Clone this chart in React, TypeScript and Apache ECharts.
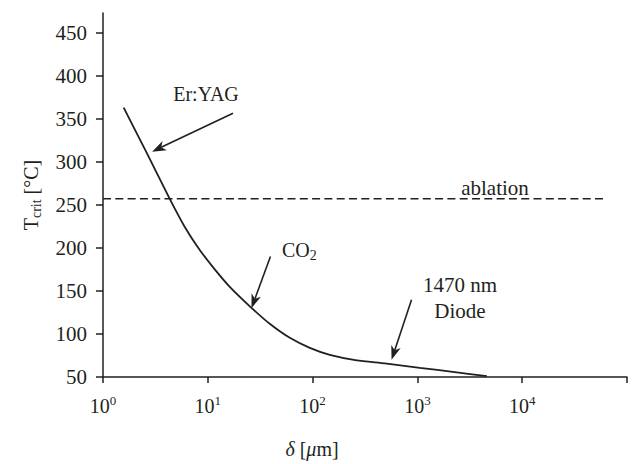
import React, { useEffect, useRef } from "react";
import * as echarts from "echarts";

// Curve: critical temperature vs optical penetration depth
const deltaUm = [1.576, 2.614, 4.334, 6.03, 8.38, 11.65, 16.2, 26.1, 39.0, 60.6, 94.0, 145.9, 264, 489, 1054, 2275, 4600];
const tCrit = [363.0, 310.4, 257.0, 224.4, 197.7, 175.1, 154.8, 130.4, 111.8, 95.5, 83.9, 75.8, 69.4, 65.9, 60.7, 55.7, 51.0];

// Ablation threshold (dashed)
const ablationT = 257;
const ablationExtent = [1, 59000];

// Axis ticks
const yTicks = [50, 100, 150, 200, 250, 300, 350, 400, 450];
const xMin = 1;
const xMax = 100000;
const yMin = 50;
const yMax = 473;

// Arrows: [tail, tip] in data coordinates
const arrows = [
  { tail: [17.4, 356.5], tip: [2.94, 311.9] },
  { tail: [39.6, 190], tip: [26.1, 130] },
  { tail: [879, 139.7], tip: [567, 70] },
];

const INK = "#231f20";
const FONT = "Liberation Serif";

export default function App() {
  const ref = useRef<HTMLDivElement>(null);

  useEffect(() => {
    document.body.style.margin = "0";
    const chart = echarts.init(ref.current!, null, { renderer: "svg" });
    const option: any = {
      animation: false,
      textStyle: { fontFamily: FONT, color: INK },
      grid: { left: 103, right: 13, top: 13, bottom: 87 },
      xAxis: {
        type: "log",
        logBase: 10,
        min: xMin,
        max: xMax,
        axisLine: { lineStyle: { color: INK, width: 1.5 } },
        axisTick: { length: 6, lineStyle: { color: INK, width: 1.5 } },
        minorTick: { show: false },
        splitLine: { show: false },
        axisLabel: {
          margin: 17,
          formatter: (v: number) => {
            const n = Math.round(Math.log10(v));
            if (n > 4) return "";
            return "{b|10}{s|" + n + "}";
          },
          rich: {
            b: { fontFamily: FONT, fontSize: 20, lineHeight: 24, color: INK },
            s: { fontFamily: FONT, fontSize: 13, lineHeight: 14, verticalAlign: "top", color: INK },
          },
        },
      },
      yAxis: {
        type: "value",
        min: yMin,
        max: yMax,
        name: "T{s|crit} [°C]",
        nameLocation: "middle",
        nameGap: 60,
        nameTextStyle: {
          fontFamily: FONT,
          fontSize: 20,
          lineHeight: 24,
          color: INK,
          rich: {
            s: { fontFamily: FONT, fontSize: 14, lineHeight: 14, verticalAlign: "bottom", color: INK },
          },
        },
        axisLine: { show: true, lineStyle: { color: INK, width: 1.5 } },
        axisTick: { show: true, length: 7, customValues: yTicks, lineStyle: { color: INK, width: 1.5 } },
        splitLine: { show: false },
        axisLabel: {
          margin: 16,
          customValues: yTicks,
          fontFamily: FONT,
          fontSize: 21,
          color: INK,
        },
      },
      series: [
        {
          type: "line",
          data: deltaUm.map((d, i) => [d, tCrit[i]]),
          showSymbol: false,
          smooth: 0.2,
          lineStyle: { color: INK, width: 1.8 },
        },
        {
          type: "line",
          data: ablationExtent.map((d) => [d, ablationT]),
          showSymbol: false,
          lineStyle: { color: INK, width: 1.5, type: [8, 4.3] },
        },
      ],
    };
    chart.setOption(option);

    const graphics: any[] = [];
    const L = 14;
    const W = 10;
    arrows.forEach((a) => {
      const p0 = chart.convertToPixel({ gridIndex: 0 }, a.tail) as number[];
      const p1 = chart.convertToPixel({ gridIndex: 0 }, a.tip) as number[];
      const dx = p1[0] - p0[0];
      const dy = p1[1] - p0[1];
      const len = Math.hypot(dx, dy);
      const ux = dx / len;
      const uy = dy / len;
      const nx = -uy;
      const ny = ux;
      const bx = p1[0] - ux * L;
      const by = p1[1] - uy * L;
      const notchX = p1[0] - ux * L * 0.72;
      const notchY = p1[1] - uy * L * 0.72;
      graphics.push({
        type: "line",
        shape: { x1: p0[0], y1: p0[1], x2: notchX, y2: notchY },
        style: { stroke: INK, lineWidth: 1.6 },
      });
      graphics.push({
        type: "polygon",
        shape: {
          points: [
            [p1[0], p1[1]],
            [bx + (nx * W) / 2, by + (ny * W) / 2],
            [notchX, notchY],
            [bx - (nx * W) / 2, by - (ny * W) / 2],
          ],
        },
        style: { fill: INK },
      });
    });

    const txt = (text: string, x: number, y: number, align: string, rich?: any, size = 21) => ({
      type: "text",
      x,
      y,
      style: {
        text,
        fontFamily: FONT,
        fontSize: size,
        fill: INK,
        align,
        verticalAlign: "middle",
        lineHeight: 24,
        rich,
      },
    });

    graphics.push(txt("Er:YAG", 206, 94, "center", undefined, 20));
    graphics.push(
      txt("CO{s|2}", 282, 250, "left", {
        s: { fontFamily: FONT, fontSize: 14, lineHeight: 14, verticalAlign: "bottom", fill: INK },
      }, 20)
    );
    graphics.push(txt("ablation", 495, 188, "center"));
    graphics.push(txt("1470 nm", 460, 285, "center"));
    graphics.push(txt("Diode", 460, 311, "center"));
    // x-axis title
    graphics.push(
      txt("{i|δ} [{i|μ}m]", 312, 449, "center", {
        i: { fontFamily: FONT, fontSize: 20, fontStyle: "italic", fill: INK },
      }, 20)
    );

    chart.setOption({ graphic: graphics });

    return () => chart.dispose();
  }, []);

  return <div ref={ref} style={{ width: 640, height: 464 }} />;
}
